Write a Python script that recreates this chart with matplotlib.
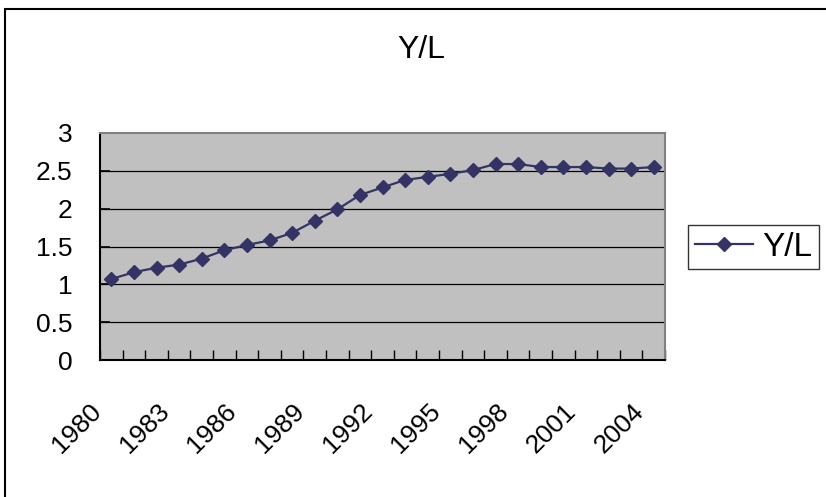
import matplotlib
matplotlib.use('Agg')
import matplotlib.pyplot as plt
import matplotlib.transforms as mtransforms
from matplotlib.patches import Rectangle
import numpy as np

plt.rcParams['font.family'] = ['Liberation Sans', 'DejaVu Sans']

# Output per worker, 1980-2004
years = list(range(1980, 2005))
y_per_l = [1.07, 1.16, 1.22, 1.26, 1.34, 1.45, 1.52, 1.58, 1.68, 1.84,
           1.99, 2.18, 2.28, 2.38, 2.42, 2.46, 2.51, 2.59, 2.59, 2.55,
           2.55, 2.55, 2.53, 2.53, 2.55]
label_years = years[::3]
y_ticks = [0, 0.5, 1, 1.5, 2, 2.5, 3]

W, H = 826, 497
fig = plt.figure(figsize=(W / 100, H / 100), dpi=100)
ax = fig.add_axes([100 / W, 1 - 360 / H, 565 / W, 227 / H])
ax.set_facecolor('#C0C0C0')

xs = np.arange(len(years))
ax.plot(xs, y_per_l, color='#333366', lw=1.6, marker='D', markersize=7,
        markerfacecolor='#333366', markeredgecolor='#333366', label='Y/L',
        zorder=3)

ax.set_xlim(-0.5, len(years) - 0.5)
ax.set_ylim(0, 3)

# y axis: grid lines at every half unit
ax.set_yticks(y_ticks)
ax.set_yticklabels([f'{v:g}' for v in y_ticks])
for v in y_ticks[1:-1]:
    ax.axhline(v, color='black', lw=0.9, zorder=1)
ax.tick_params(axis='y', direction='in', length=7, width=1.2,
               labelsize=19, pad=20)

# x axis: tick marks between categories, labels every third year
ax.set_xticks([years.index(y) for y in label_years])
ax.set_xticklabels([str(y) for y in label_years], rotation=45,
                   ha='right', va='center', rotation_mode='anchor')
ax.set_xticks(np.arange(-0.5, len(years)), minor=True)
ax.tick_params(axis='x', which='major', length=0, labelsize=19, pad=34)
ax.tick_params(axis='x', which='minor', direction='in', length=7,
               width=1.0, color='black')
shift = mtransforms.ScaledTranslation(-0.14, 0, fig.dpi_scale_trans)
for lbl in ax.get_xticklabels():
    lbl.set_transform(lbl.get_transform() + shift)

for side in ('left', 'bottom'):
    ax.spines[side].set_color('black')
    ax.spines[side].set_linewidth(1.5)
for side in ('top', 'right'):
    ax.spines[side].set_color('#808080')
    ax.spines[side].set_linewidth(1.5)

fig.text(421 / W, 1 - 50 / H, 'Y/L', ha='center', va='center', fontsize=23)

leg = ax.legend(loc='center left', bbox_to_anchor=(688 / W, 1 - 247 / H),
                bbox_transform=fig.transFigure, fontsize=24, frameon=True,
                fancybox=False, borderpad=0.2, borderaxespad=0,
                handlelength=1.76, handletextpad=0.27, markerscale=1.0)
leg.get_frame().set_edgecolor('black')
leg.get_frame().set_linewidth(1.0)

# chart area border
fig.add_artist(Rectangle((5 / W, -0.1), 1.2, 1.1 - 9 / H,
                         transform=fig.transFigure, fill=False,
                         edgecolor='black', lw=1.5))

fig.savefig('out.png', dpi=100)
